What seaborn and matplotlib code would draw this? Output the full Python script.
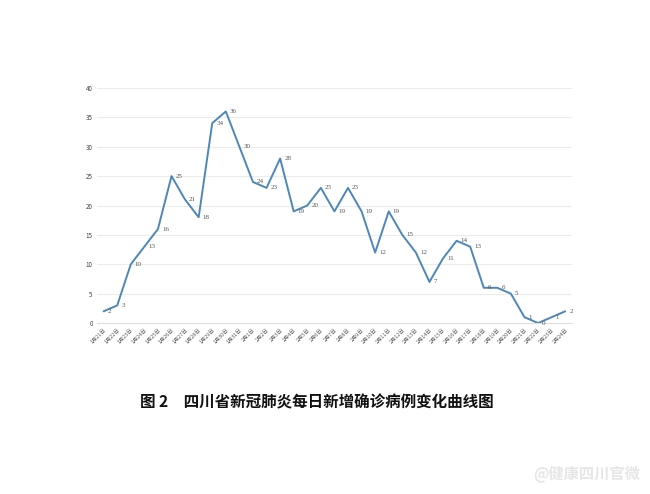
import matplotlib
matplotlib.use("Agg")
import matplotlib.pyplot as plt
import pandas as pd
import seaborn as sns

# daily new confirmed cases, Sichuan, 1/21 - 2/24
dates = [f"1月{d}日" for d in range(21, 32)] + [f"2月{d}日" for d in range(1, 25)]
cases = [2, 3, 10, 13, 16, 25, 21, 18, 34, 36, 30,
         24, 23, 28, 19, 20, 23, 19, 23, 19, 12, 19, 15, 12, 7,
         11, 14, 13, 6, 6, 5, 1, 0, 1, 2]
y_ticks = [0, 5, 10, 15, 20, 25, 30, 35, 40]

df = pd.DataFrame({"idx": range(len(dates)), "date": dates, "cases": cases})

sns.set_style("white")
plt.rcParams["font.family"] = ["Noto Sans CJK SC", "DejaVu Sans"]

fig = plt.figure(figsize=(6.5, 4.94), dpi=100)
ax = fig.add_axes([0.149, 0.346, 0.731, 0.476])

sns.lineplot(data=df, x="idx", y="cases", color="#4d87b9", linewidth=1.4, ax=ax, clip_on=False)

# data labels to the right of each point
for i, v in zip(df.idx, df.cases):
    ax.text(i + 0.3, v, str(v), fontsize=5, color="#555555", va="center", ha="left",
            family=["Liberation Serif", "DejaVu Serif"])

ax.set_xlim(-0.5, len(dates) - 0.5)
ax.set_ylim(0, 40)
ax.set_yticks(y_ticks)
ax.set_yticklabels([str(t) for t in y_ticks], fontsize=4.5, color="#444444")
ax.set_xticks(df.idx)
ax.set_xticklabels(dates, fontsize=3.8, color="#555555", rotation=45, ha="right", rotation_mode="anchor")
ax.tick_params(axis="both", length=0, pad=3)
ax.grid(axis="y", color="#ececec", linewidth=0.8)
ax.set_axisbelow(True)
ax.set_xlabel("")
ax.set_ylabel("")
for s in ["top", "right", "left"]:
    ax.spines[s].set_visible(False)
ax.spines["bottom"].set_color("#dddddd")
ax.spines["bottom"].set_linewidth(0.8)

fig.text(0.487, 0.186, "图 2　四川省新冠肺炎每日新增确诊病例变化曲线图",
         ha="center", va="center", fontsize=11.2, fontweight="bold", color="#111111")

# watermark
fig.text(0.985, 0.022, "@健康四川官微", ha="right", va="bottom", fontsize=11,
         color="#e6e6e6", fontweight="bold")

fig.savefig("out.png", dpi=100)
